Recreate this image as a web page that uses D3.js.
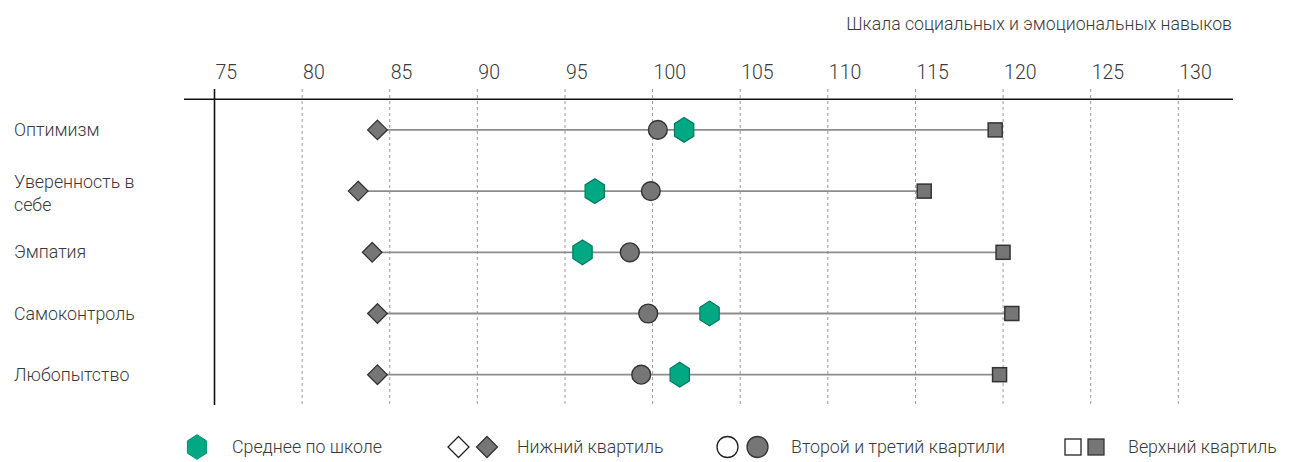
<!DOCTYPE html>
<html>
<head>
<meta charset="utf-8">
<script src="https://cdn.jsdelivr.net/npm/d3@7"></script>
<style>
  body { margin: 0; background: #fff; }
  text { font-family: "Roboto", "Lato", "DejaVu Sans", sans-serif; font-weight: 300; fill: #3a3a3a; }
</style>
</head>
<body>
<div id="chart"></div>
<script>
// data
var skills = ["Оптимизм", "Уверенность в себе", "Эмпатия", "Самоконтроль", "Любопытство"];
var skillLines = [["Оптимизм"], ["Уверенность в", "себе"], ["Эмпатия"], ["Самоконтроль"], ["Любопытство"]];
var lowerQuartile = [84.3, 83.2, 84.0, 84.3, 84.3];
var middleQuartiles = [100.3, 99.9, 98.7, 99.75, 99.35];
var schoolMean = [101.8, 96.7, 96.0, 103.25, 101.55];
var upperQuartile = [119.55, 115.5, 120.0, 120.5, 119.8];
var tickValues = [75, 80, 85, 90, 95, 100, 105, 110, 115, 120, 125, 130];
var axisTitle = "Шкала социальных и эмоциональных навыков";
var legendLabels = ["Среднее по школе", "Нижний квартиль", "Второй и третий квартили", "Верхний квартиль"];

var width = 1290;
var height = 462;

var svg = d3.select("#chart")
  .append("svg")
  .attr("width", width)
  .attr("height", height);

var x = d3.scaleLinear()
  .domain([75, 130])
  .range([214.5, 1178.3]);

var y = d3.scaleBand()
  .domain(skills)
  .range([99.3, 405.3]);

function cy(d) { return y(d) + y.bandwidth() / 2; }

var grey = "#767676";
var greyStroke = "#333";
var green = "#00a983";
var greenStroke = "#00795e";

// axis title
svg.append("text")
  .attr("x", 1232)
  .attr("y", 30)
  .attr("text-anchor", "end")
  .style("font-size", "17.7px")
  .text(axisTitle);

// gridlines
svg.append("g")
  .selectAll("line")
  .data(tickValues.slice(1))
  .enter().append("line")
  .attr("x1", function(d) { return x(d); })
  .attr("x2", function(d) { return x(d); })
  .attr("y1", 89)
  .attr("y2", 405)
  .attr("stroke", "#9a9a9a")
  .attr("stroke-width", 1)
  .attr("stroke-dasharray", "3,3");

// tick labels
svg.append("g")
  .selectAll("text")
  .data(tickValues)
  .enter().append("text")
  .attr("x", function(d) { return x(d) + 1; })
  .attr("y", 79)
  .style("font-size", "19.5px")
  .text(function(d) { return d; });

// axes
svg.append("line")
  .attr("x1", 184).attr("x2", 1233)
  .attr("y1", 99.3).attr("y2", 99.3)
  .attr("stroke", "#111").attr("stroke-width", 1.6);

svg.append("line")
  .attr("x1", x(75)).attr("x2", x(75))
  .attr("y1", 89).attr("y2", 405)
  .attr("stroke", "#111").attr("stroke-width", 1.6);

// row labels
var labels = svg.append("g")
  .selectAll("text")
  .data(skills)
  .enter().append("text")
  .attr("x", 14)
  .attr("y", function(d, i) { return cy(d) + 6 - (skillLines[i].length - 1) * 9.5; })
  .style("font-size", "17.8px");

labels.each(function(d, i) {
  var t = d3.select(this);
  skillLines[i].forEach(function(line, j) {
    t.append("tspan")
      .attr("x", 14)
      .attr("dy", j == 0 ? 0 : 23)
      .text(line);
  });
});

// range lines
svg.append("g")
  .selectAll("line")
  .data(skills)
  .enter().append("line")
  .attr("x1", function(d, i) { return x(lowerQuartile[i]); })
  .attr("x2", function(d, i) { return x(upperQuartile[i]); })
  .attr("y1", cy)
  .attr("y2", cy)
  .attr("stroke", "#8c8c8c")
  .attr("stroke-width", 1.8);

function hexPath(r) {
  var pts = [];
  for (var k = 0; k < 6; k++) {
    var a = Math.PI / 3 * k - Math.PI / 2;
    pts.push([r * 0.9 * Math.cos(a), r * Math.sin(a)]);
  }
  return "M" + pts.join("L") + "Z";
}

// lower quartile diamonds
svg.append("g")
  .selectAll("path")
  .data(skills)
  .enter().append("path")
  .attr("d", "M0,-9.8L9.8,0L0,9.8L-9.8,0Z")
  .attr("transform", function(d, i) { return "translate(" + x(lowerQuartile[i]) + "," + cy(d) + ")"; })
  .attr("fill", grey)
  .attr("stroke", greyStroke)
  .attr("stroke-width", 1.3);

// upper quartile squares
svg.append("g")
  .selectAll("rect")
  .data(skills)
  .enter().append("rect")
  .attr("x", function(d, i) { return x(upperQuartile[i]) - 7; })
  .attr("y", function(d) { return cy(d) - 7; })
  .attr("width", 14)
  .attr("height", 14)
  .attr("fill", grey)
  .attr("stroke", greyStroke)
  .attr("stroke-width", 1.5);

// middle quartiles circles
svg.append("g")
  .selectAll("circle")
  .data(skills)
  .enter().append("circle")
  .attr("cx", function(d, i) { return x(middleQuartiles[i]); })
  .attr("cy", cy)
  .attr("r", 9.4)
  .attr("fill", grey)
  .attr("stroke", greyStroke)
  .attr("stroke-width", 1.4);

// school mean hexagons
svg.append("g")
  .selectAll("path")
  .data(skills)
  .enter().append("path")
  .attr("d", hexPath(12.4))
  .attr("transform", function(d, i) { return "translate(" + x(schoolMean[i]) + "," + cy(d) + ")"; })
  .attr("fill", green)
  .attr("stroke", greenStroke)
  .attr("stroke-width", 1.2);

// legend
var ly = 447;
var legend = svg.append("g");

legend.append("path")
  .attr("d", hexPath(12.3))
  .attr("transform", "translate(197," + ly + ")")
  .attr("fill", green)
  .attr("stroke", "#0a8f70")
  .attr("stroke-width", 1);

legend.append("path")
  .attr("d", "M0,-10.5L10.5,0L0,10.5L-10.5,0Z")
  .attr("transform", "translate(458.5," + ly + ")")
  .attr("fill", "#fff").attr("stroke", "#222").attr("stroke-width", 1.3);
legend.append("path")
  .attr("d", "M0,-10.5L10.5,0L0,10.5L-10.5,0Z")
  .attr("transform", "translate(487," + ly + ")")
  .attr("fill", grey).attr("stroke", greyStroke).attr("stroke-width", 1.3);

legend.append("circle")
  .attr("cx", 727.5).attr("cy", ly).attr("r", 10.5)
  .attr("fill", "#fff").attr("stroke", "#222").attr("stroke-width", 1.3);
legend.append("circle")
  .attr("cx", 757.5).attr("cy", ly).attr("r", 10.5)
  .attr("fill", grey).attr("stroke", greyStroke).attr("stroke-width", 1.3);

legend.append("rect")
  .attr("x", 1065).attr("y", ly - 8).attr("width", 16).attr("height", 16)
  .attr("fill", "#fff").attr("stroke", "#222").attr("stroke-width", 1.3);
legend.append("rect")
  .attr("x", 1088).attr("y", ly - 8).attr("width", 16).attr("height", 16)
  .attr("fill", grey).attr("stroke", greyStroke).attr("stroke-width", 1.3);

var legendX = [232, 517, 791, 1128];
legend.selectAll("text.leg")
  .data(legendLabels)
  .enter().append("text")
  .attr("class", "leg")
  .attr("x", function(d, i) { return legendX[i]; })
  .attr("y", ly + 6)
  .style("font-size", "17.8px")
  .text(function(d) { return d; });
</script>
</body>
</html>
